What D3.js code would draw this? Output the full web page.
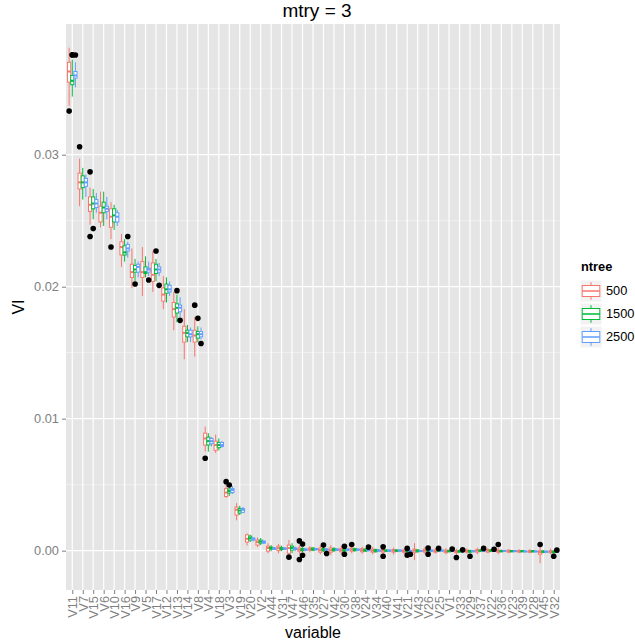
<!DOCTYPE html>
<html>
<head>
<meta charset="utf-8">
<script src="https://cdn.jsdelivr.net/npm/d3@7"></script>
<style>
  body { margin: 0; background: #fff; }
  svg { display: block; }
  text { font-family: "Liberation Sans", Arial, Helvetica, sans-serif; }
</style>
</head>
<body>
<svg id="chart" width="635" height="644"></svg>
<script>
// Variables ordered by importance
const variables = ["V11","V7","V15","V6","V10","V16","V9","V5","V17","V12","V13","V14","V8","V4","V18","V3","V19","V20","V2","V44","V31","V47","V46","V35","V27","V42","V30","V38","V24","V34","V40","V41","V21","V43","V26","V25","V1","V33","V29","V37","V22","V36","V23","V39","V28","V45","V32"];

const ntreeLevels = ["500", "1500", "2500"];
const ntreeColors = ["#F8766D", "#00BA38", "#619CFF"];

// Box statistics per variable: [lower whisker, Q1, median, Q3, upper whisker]
const stats500 = [
  [0.0337,0.0355,0.0363,0.0370,0.0381],[0.0261,0.0274,0.0279,0.0286,0.0297],[0.0247,0.0257,0.0262,0.0268,0.0275],
  [0.0245,0.0249,0.0256,0.0261,0.0272],[0.0236,0.0245,0.0253,0.0259,0.0264],[0.0215,0.0224,0.0230,0.0234,0.0240],
  [0.0199,0.0207,0.0211,0.0217,0.0229],[0.0193,0.0207,0.0211,0.0219,0.0230],[0.0196,0.0204,0.0209,0.0218,0.0227],
  [0.0183,0.0189,0.0194,0.0199,0.0208],[0.0167,0.0177,0.0183,0.0188,0.0196],[0.0145,0.0158,0.0165,0.0170,0.0183],
  [0.0147,0.0158,0.0163,0.0167,0.0177],[0.0075,0.0080,0.0085,0.0089,0.0094],[0.0074,0.0076,0.0080,0.0083,0.0088],
  [0.0040,0.0041,0.0044,0.0047,0.0050],[0.0023,0.0027,0.0031,0.0033,0.0036],[0.0004,0.00065,0.0009,0.0012,0.0013],
  [0.00027,0.00042,0.00065,0.0008,0.0010],[-0.0002,-0.00004,0.0002,0.00034,0.00057],[-0.0002,0.0,0.00019,0.00034,0.0005],
  [-0.00034,-0.0002,0.0002,0.00042,0.0008],[-0.00027,-0.00004,0.00008,0.0002,0.00042],[-0.00011,0.00004,0.00011,0.0002,0.00034],
  [-0.00027,-0.00011,0.00004,0.0002,0.00042],[-0.00034,-0.00011,0.00004,0.0002,0.00042],[-0.00027,-0.00008,0.00004,0.00015,0.00034],
  [-0.00019,-0.00004,0.00008,0.00019,0.0003],[-0.00023,-0.00008,0.00004,0.00015,0.0003],[-0.00027,-0.00011,0.0,0.00011,0.00027],
  [-0.00027,-0.00011,0.0,0.00008,0.00019],[-0.0003,-0.00011,0.0,0.00008,0.00023],[-0.00023,-0.00011,-0.00004,0.00004,0.00015],
  [-0.00072,-0.00015,0.0,0.00011,0.00057],[-0.00027,-0.00011,0.0,0.00011,0.00027],[-0.00023,-0.00011,-0.00004,0.00004,0.00019],
  [-0.00027,-0.00015,-0.00004,0.00004,0.00019],[-0.00034,-0.00015,-0.00008,0.0,0.00015],[-0.00023,-0.00011,-0.00004,0.00004,0.00015],
  [-0.00027,-0.00011,0.0,0.00008,0.00023],[-0.00019,-0.00011,0.0,0.00008,0.00019],[-0.00027,-0.00011,-0.00004,0.00004,0.00023],
  [-0.00019,-0.00011,-0.00004,0.00004,0.00011],[-0.00019,-0.00011,-0.00004,0.0,0.00011],[-0.00019,-0.00011,-0.00008,0.0,0.00011],
  [-0.00095,-0.00027,-0.00011,0.0,0.00034],[-0.00027,-0.00015,-0.00008,0.0,0.00015]
];

const stats1500 = [
  [0.0344,0.0353,0.0356,0.0360,0.0372],[0.0266,0.0275,0.0279,0.0284,0.0290],[0.0251,0.0259,0.0263,0.0268,0.0274],
  [0.0246,0.0256,0.0260,0.0264,0.0272],[0.0243,0.0249,0.0254,0.0259,0.0262],[0.0219,0.0224,0.0226,0.0231,0.0236],
  [0.0204,0.0211,0.0213,0.0216,0.0221],[0.0207,0.0210,0.0211,0.0215,0.0223],[0.0204,0.0210,0.0213,0.0217,0.0221],
  [0.0188,0.0195,0.0198,0.0202,0.0207],[0.0173,0.0180,0.0184,0.0187,0.0194],[0.0158,0.0162,0.0165,0.0167,0.0171],
  [0.0158,0.0161,0.0164,0.0166,0.0170],[0.0075,0.0080,0.0083,0.0086,0.0089],[0.0076,0.0078,0.0080,0.0082,0.0085],
  [0.00414,0.00437,0.00452,0.00467,0.00482],[0.0027,0.00285,0.00304,0.0032,0.0034],[0.00065,0.0008,0.00095,0.0011,0.0012],
  [0.00042,0.00057,0.00068,0.0008,0.00095],[-0.00004,0.00011,0.0002,0.00027,0.00042],[-0.00004,0.00008,0.00015,0.00023,0.00038],
  [-0.0002,0.00004,0.0002,0.00034,0.00057],[-0.00011,0.0,0.00008,0.00015,0.00027],[-0.00004,0.00004,0.00011,0.0002,0.00027],
  [-0.00011,0.0,0.00008,0.00015,0.00027],[-0.00011,0.0,0.00008,0.00015,0.00027],[-0.00011,-0.00004,0.00004,0.00011,0.0002],
  [-0.00008,0.0,0.00008,0.00015,0.00023],[-0.00011,-0.00004,0.00004,0.00011,0.00019],[-0.00015,-0.00008,0.0,0.00008,0.00015],
  [-0.00011,-0.00004,0.0,0.00004,0.00011],[-0.00011,-0.00004,0.0,0.00004,0.00011],[-0.00015,-0.00008,-0.00004,0.00004,0.00008],
  [-0.00015,-0.00008,0.0,0.00004,0.00011],[-0.00011,-0.00004,0.0,0.00004,0.00011],[-0.00011,-0.00004,0.0,0.00004,0.00011],
  [-0.00011,-0.00008,-0.00004,0.0,0.00008],[-0.00015,-0.00011,-0.00004,0.0,0.00008],[-0.00019,-0.00011,-0.00004,0.0,0.00008],
  [-0.00011,-0.00004,0.0,0.00004,0.00011],[-0.00011,-0.00004,0.0,0.00004,0.00011],[-0.00011,-0.00008,-0.00004,0.0,0.00008],
  [-0.00011,-0.00008,-0.00004,0.0,0.00004],[-0.00011,-0.00008,-0.00004,0.0,0.00004],[-0.00015,-0.00008,-0.00004,0.0,0.00004],
  [-0.00019,-0.00011,-0.00008,-0.00004,0.00004],[-0.00023,-0.00015,-0.00011,-0.00004,0.00004]
];

const stats2500 = [
  [0.0351,0.0358,0.0360,0.0363,0.0370],[0.0268,0.0276,0.0279,0.0282,0.0285],[0.0256,0.0260,0.0263,0.0266,0.0271],
  [0.0251,0.0257,0.0259,0.0261,0.0268],[0.0246,0.0249,0.0253,0.0256,0.0258],[0.0222,0.0227,0.0229,0.0232,0.0234],
  [0.0207,0.0211,0.0215,0.0217,0.0219],[0.0208,0.0211,0.0213,0.0214,0.0219],[0.0208,0.0211,0.0213,0.0215,0.0218],
  [0.0193,0.0196,0.0198,0.0201,0.0204],[0.0177,0.0181,0.0184,0.0186,0.0192],[0.0158,0.0162,0.0164,0.0167,0.0169],
  [0.0160,0.0162,0.0164,0.0166,0.0169],[0.0079,0.0081,0.0083,0.0085,0.0086],[0.0078,0.0079,0.0080,0.0082,0.0083],
  [0.0043,0.0044,0.0046,0.0047,0.0049],[0.00285,0.0029,0.0031,0.0032,0.0033],[0.0007,0.0008,0.0009,0.00095,0.0010],
  [0.0005,0.00057,0.00065,0.00072,0.0008],[0.00004,0.00011,0.00015,0.0002,0.00027],[0.00004,0.00011,0.00015,0.00019,0.00027],
  [-0.00004,0.00008,0.00015,0.0002,0.0003],[-0.00004,0.00004,0.00008,0.00011,0.0002],[0.0,0.00008,0.00011,0.00015,0.0002],
  [-0.00004,0.00004,0.00008,0.00011,0.0002],[-0.00004,0.00004,0.00008,0.00011,0.00019],[-0.00004,0.00004,0.00008,0.00011,0.00015],
  [-0.00004,0.00004,0.00008,0.00011,0.00015],[-0.00004,0.0,0.00004,0.00008,0.00015],[-0.00008,-0.00004,0.0,0.00004,0.00011],
  [-0.00008,-0.00004,0.0,0.00004,0.00008],[-0.00008,-0.00004,0.0,0.00004,0.00008],[-0.00011,-0.00008,-0.00004,0.0,0.00008],
  [-0.00008,-0.00004,-0.00002,0.0,0.00004],[-0.00008,-0.00004,0.0,0.00004,0.00008],[-0.00008,-0.00004,0.0,0.00004,0.00008],
  [-0.00008,-0.00004,-0.00002,0.0,0.00004],[-0.00011,-0.00008,-0.00004,-0.00002,0.0],[-0.00011,-0.00008,-0.00004,0.0,0.00004],
  [-0.00008,-0.00004,-0.00002,0.0,0.00004],[-0.00008,-0.00004,-0.00002,0.0,0.00004],[-0.00008,-0.00004,-0.00002,0.0,0.00004],
  [-0.00008,-0.00006,-0.00004,0.0,0.00004],[-0.00011,-0.00008,-0.00006,-0.00004,0.0],[-0.00011,-0.00008,-0.00006,-0.00004,0.0],
  [-0.00015,-0.00011,-0.00008,-0.00004,0.0],[-0.00015,-0.00011,-0.00008,-0.00004,-0.00001]
];

// Outlying observations: [variable, ntree, VI]
const outliers = [
  ["V11","500",0.0333],["V11","1500",0.03755],["V11","1500",0.03757],["V11","2500",0.03755],
  ["V7","500",0.0306],
  ["V15","500",0.0287],["V15","500",0.0238],["V15","1500",0.0244],
  ["V10","500",0.0230],
  ["V16","2500",0.0238],
  ["V9","1500",0.0202],
  ["V5","2500",0.0205],
  ["V17","1500",0.0227],["V17","2500",0.0201],
  ["V13","1500",0.0197],["V13","2500",0.01745],
  ["V8","500",0.0186],["V8","1500",0.0176],["V8","2500",0.0157],
  ["V4","500",0.0070],
  ["V3","500",0.00523],["V3","1500",0.00497],
  ["V47","500",-0.00049],
  ["V46","500",0.00074],["V46","500",-0.00067],["V46","1500",0.0005],["V46","1500",-0.00035],
  ["V27","1500",0.00042],["V27","2500",-0.00021],
  ["V30","1500",0.00034],["V30","1500",-0.00027],
  ["V38","500",0.00047],
  ["V24","2500",0.00027],
  ["V40","500",0.00029],["V40","500",-0.00042],
  ["V21","1500",0.00017],["V21","1500",-0.00034],["V21","2500",-0.00027],
  ["V26","1500",0.0002],["V26","1500",-0.00027],
  ["V25","1500",0.00017],
  ["V1","2500",0.00012],
  ["V33","500",-0.00052],["V33","2500",0.00006],
  ["V29","1500",-0.00042],
  ["V37","2500",0.00017],
  ["V22","2500",0.00011],
  ["V36","500",0.00047],
  ["V45","500",0.00047],
  ["V32","1500",-0.00042],["V32","2500",0.00004]
];

const yMajorBreaks = [0, 0.01, 0.02, 0.03];
const yMinorBreaks = [0.005, 0.015, 0.025, 0.035];

// ---------------------------------------------------------------------
const panel = { left: 66, right: 560, top: 24, bottom: 590 };
const svg = d3.select("#chart");

const x = d3.scalePoint().domain(variables).range([panel.left, panel.right]).padding(0.6);
const step = x.step();
const dodge = d3.scaleBand().domain(ntreeLevels).range([-0.45 * step, 0.45 * step]);
const y = d3.scaleLinear().domain([-0.00298, 0.0399]).range([panel.bottom, panel.top]);
const color = d3.scaleOrdinal().domain(ntreeLevels).range(ntreeColors);

// panel background
svg.append("rect")
  .attr("x", panel.left).attr("y", panel.top)
  .attr("width", panel.right - panel.left).attr("height", panel.bottom - panel.top)
  .attr("fill", "#E5E5E5");

const grid = svg.append("g");
grid.selectAll("line.minor").data(yMinorBreaks).join("line")
  .attr("x1", panel.left).attr("x2", panel.right)
  .attr("y1", d => y(d)).attr("y2", d => y(d))
  .attr("stroke", "#F2F2F2").attr("stroke-width", 0.9);
grid.selectAll("line.majorY").data(yMajorBreaks).join("line")
  .attr("x1", panel.left).attr("x2", panel.right)
  .attr("y1", d => y(d)).attr("y2", d => y(d))
  .attr("stroke", "#FFFFFF").attr("stroke-width", 1.2);
grid.selectAll("line.majorX").data(variables).join("line")
  .attr("x1", d => x(d)).attr("x2", d => x(d))
  .attr("y1", panel.top).attr("y2", panel.bottom)
  .attr("stroke", "#FFFFFF").attr("stroke-width", 1.2);

// boxes
const boxRows = [];
[stats500, stats1500, stats2500].forEach((arr, k) => {
  arr.forEach((s, i) => boxRows.push({ variable: variables[i], ntree: ntreeLevels[k], s }));
});

const bw = dodge.bandwidth();
const boxes = svg.append("g").selectAll("g").data(boxRows).join("g")
  .attr("transform", d => `translate(${x(d.variable) + dodge(d.ntree)},0)`);

boxes.append("line")
  .attr("x1", bw / 2).attr("x2", bw / 2)
  .attr("y1", d => y(d.s[0])).attr("y2", d => y(d.s[1]))
  .attr("stroke", d => color(d.ntree)).attr("stroke-width", 1);
boxes.append("line")
  .attr("x1", bw / 2).attr("x2", bw / 2)
  .attr("y1", d => y(d.s[3])).attr("y2", d => y(d.s[4]))
  .attr("stroke", d => color(d.ntree)).attr("stroke-width", 1);
boxes.append("rect")
  .attr("x", 0).attr("width", bw)
  .attr("y", d => y(d.s[3]))
  .attr("height", d => Math.max(0.5, y(d.s[1]) - y(d.s[3])))
  .attr("fill", "#FFFFFF")
  .attr("stroke", d => color(d.ntree)).attr("stroke-width", 1);
boxes.append("line")
  .attr("x1", 0).attr("x2", bw)
  .attr("y1", d => y(d.s[2])).attr("y2", d => y(d.s[2]))
  .attr("stroke", d => color(d.ntree)).attr("stroke-width", 2);

// outliers
svg.append("g").selectAll("circle").data(outliers).join("circle")
  .attr("cx", d => x(d[0]) + dodge(d[1]) + bw / 2)
  .attr("cy", d => y(d[2]))
  .attr("r", 2.8)
  .attr("fill", "#000");

// axes
const axisColor = "#7F7F7F";
const yAxis = svg.append("g")
  .attr("transform", `translate(${panel.left},0)`)
  .call(d3.axisLeft(y).tickValues(yMajorBreaks).tickFormat(d3.format(".2f")).tickSize(4).tickPadding(3));
yAxis.select(".domain").remove();
yAxis.selectAll("line").attr("stroke", axisColor);
yAxis.selectAll("text").attr("fill", axisColor).attr("font-size", 12.8)
  .attr("font-family", "'Liberation Sans', Arial, sans-serif");

const xAxis = svg.append("g")
  .attr("transform", `translate(0,${panel.bottom})`)
  .call(d3.axisBottom(x).tickSize(4).tickPadding(3));
xAxis.select(".domain").remove();
xAxis.selectAll("line").attr("stroke", axisColor);
xAxis.selectAll("text")
  .attr("fill", axisColor).attr("font-size", 12.8)
  .attr("font-family", "'Liberation Sans', Arial, sans-serif")
  .attr("transform", "rotate(-90)")
  .attr("text-anchor", "end")
  .attr("x", -6).attr("y", 0).attr("dy", "0.35em");

// titles
const midX = (panel.left + panel.right) / 2;
svg.append("text").attr("x", midX + 4).attr("y", 17)
  .attr("text-anchor", "middle").attr("font-size", 19).text("mtry = 3");
svg.append("text").attr("x", midX).attr("y", 638)
  .attr("text-anchor", "middle").attr("font-size", 16).text("variable");
svg.append("text")
  .attr("transform", `translate(24,${(panel.top + panel.bottom) / 2}) rotate(-90)`)
  .attr("text-anchor", "middle").attr("font-size", 16).text("VI");

// legend
const legend = svg.append("g").attr("transform", "translate(580,0)");
legend.append("text").attr("x", 1).attr("y", 271)
  .attr("font-size", 12.8).attr("font-weight", "bold").text("ntree");
const keySize = 22;
const keys = legend.selectAll("g.key").data(ntreeLevels).join("g")
  .attr("transform", (d, i) => `translate(0,${280 + i * 23})`);
keys.append("rect").attr("width", keySize).attr("height", keySize)
  .attr("fill", "#F2F2F2").attr("stroke", "#FFFFFF").attr("stroke-width", 1);
keys.append("line")
  .attr("x1", keySize / 2).attr("x2", keySize / 2)
  .attr("y1", keySize * 0.1).attr("y2", keySize * 0.9)
  .attr("stroke", d => color(d)).attr("stroke-width", 1);
keys.append("rect")
  .attr("x", keySize * 0.1).attr("width", keySize * 0.8)
  .attr("y", keySize * 0.25).attr("height", keySize * 0.5)
  .attr("fill", "#FFFFFF").attr("stroke", d => color(d)).attr("stroke-width", 1);
keys.append("line")
  .attr("x1", keySize * 0.1).attr("x2", keySize * 0.9)
  .attr("y1", keySize / 2).attr("y2", keySize / 2)
  .attr("stroke", d => color(d)).attr("stroke-width", 1.5);
keys.append("text")
  .attr("x", keySize + 4).attr("y", keySize / 2).attr("dy", "0.35em")
  .attr("font-size", 12.8).text(d => d);
</script>
</body>
</html>
